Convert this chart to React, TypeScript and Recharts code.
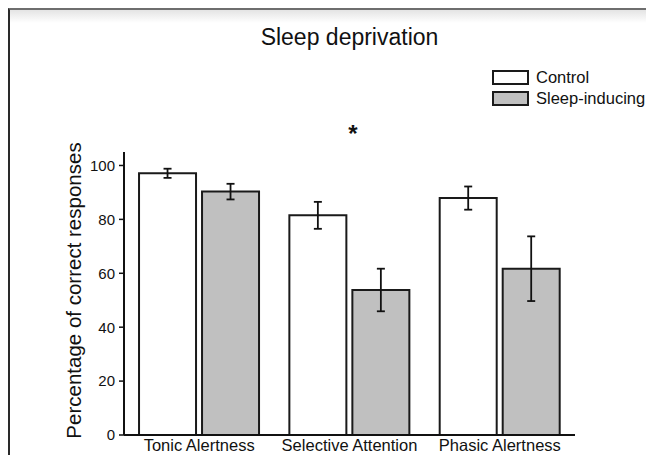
import React from "react";
import { BarChart, Bar, XAxis, YAxis, ErrorBar, Legend } from "recharts";

const CATEGORIES = ["Tonic Alertness", "Selective Attention", "Phasic Alertness"];
const CONTROL = [97.1, 81.5, 87.9];
const CONTROL_ERR = [1.7, 5.0, 4.3];
const SLEEP = [90.3, 53.8, 61.7];
const SLEEP_ERR = [2.9, 7.9, 12.0];
const Y_TICKS = [0, 20, 40, 60, 80, 100];

const FONT = '"Liberation Sans", Arial, sans-serif';
const INK = "#111";

const data = CATEGORIES.map((name, i) => ({
  name,
  control: CONTROL[i],
  controlErr: CONTROL_ERR[i],
  sleep: SLEEP[i],
  sleepErr: SLEEP_ERR[i],
}));

// tick y already sits a few px under the axis line
function XTick(props: any) {
  const { x, y, payload } = props;
  return (
    <text x={x} y={y + 8} textAnchor="middle" fontSize={16.5} fill={INK} fontFamily={FONT}>
      {payload.value}
    </text>
  );
}

function YLabel(props: any) {
  const vb = props.viewBox || { x: 0, y: 142, width: 114, height: 283 };
  const cx = vb.x + 63;
  const cy = vb.y + vb.height / 2 - 3;
  return (
    <text
      x={cx}
      y={cy}
      transform={`rotate(-90 ${cx} ${cy})`}
      textAnchor="middle"
      dominantBaseline="central"
      fontSize={20.5}
      fill={INK}
      fontFamily={FONT}
    >
      Percentage of correct responses
    </text>
  );
}

function LegendBox(props: any) {
  const items = props.payload || [];
  return (
    <div style={{ fontFamily: FONT, color: INK }}>
      {items.map((it: any) => (
        <div key={it.value} style={{ display: "flex", alignItems: "center", height: 21 }}>
          <div
            style={{
              width: 37,
              height: 15,
              boxSizing: "border-box",
              border: "2px solid #1a1a1a",
              background: it.payload?.fill ?? it.color,
            }}
          />
          <span style={{ marginLeft: 7, fontSize: 16.5, lineHeight: "21px" }}>{it.value}</span>
        </div>
      ))}
    </div>
  );
}

export default function App() {
  return (
    <div
      style={{
        position: "relative",
        width: 646,
        height: 447,
        boxSizing: "border-box",
        borderTop: "2px solid #6e6e6e",
        borderLeft: "2px solid #2a2a2a",
        background: "linear-gradient(#e4e4e4, #ffffff 13px)",
      }}
    >
      <svg
        width={644}
        height={445}
        style={{ position: "absolute", left: 0, top: 0, pointerEvents: "none" }}
      >
        <text x={339.5} y={35} textAnchor="middle" fontSize={23} fill={INK} fontFamily={FONT}>
          Sleep deprivation
        </text>
        <text
          x={343}
          y={132}
          textAnchor="middle"
          fontSize={24}
          fontWeight="bold"
          fill={INK}
          fontFamily={FONT}
        >
          *
        </text>
      </svg>
      <BarChart
        width={644}
        height={445}
        data={data}
        margin={{ top: 142, right: 79, bottom: 0, left: 0 }}
        barCategoryGap="10%"
        barGap={6}
        style={{ position: "absolute", left: 0, top: 0 }}
      >
        <XAxis
          dataKey="name"
          height={20}
          tickLine={false}
          axisLine={{ stroke: INK, strokeWidth: 2 }}
          tick={<XTick />}
          interval={0}
        />
        <YAxis
          width={114}
          domain={[0, 105]}
          ticks={Y_TICKS}
          tickSize={5}
          tickMargin={4}
          tickLine={{ stroke: INK, strokeWidth: 1.5 }}
          axisLine={{ stroke: INK, strokeWidth: 2 }}
          tick={{ fontSize: 15, fill: INK, fontFamily: FONT }}
          label={<YLabel />}
        />
        <Legend
          layout="horizontal"
          verticalAlign="middle"
          align="center"
          content={<LegendBox />}
          wrapperStyle={{ position: "absolute", left: 482, top: 57, width: 170 }}
        />
        <Bar
          dataKey="control"
          name="Control"
          fill="#ffffff"
          stroke="#1a1a1a"
          strokeWidth={2}
          isAnimationActive={false}
        >
          <ErrorBar dataKey="controlErr" width={4} stroke={INK} strokeWidth={1.8} />
        </Bar>
        <Bar
          dataKey="sleep"
          name="Sleep-inducing"
          fill="#c0c0c0"
          stroke="#1a1a1a"
          strokeWidth={2}
          isAnimationActive={false}
        >
          <ErrorBar dataKey="sleepErr" width={4} stroke={INK} strokeWidth={1.8} />
        </Bar>
      </BarChart>
    </div>
  );
}
